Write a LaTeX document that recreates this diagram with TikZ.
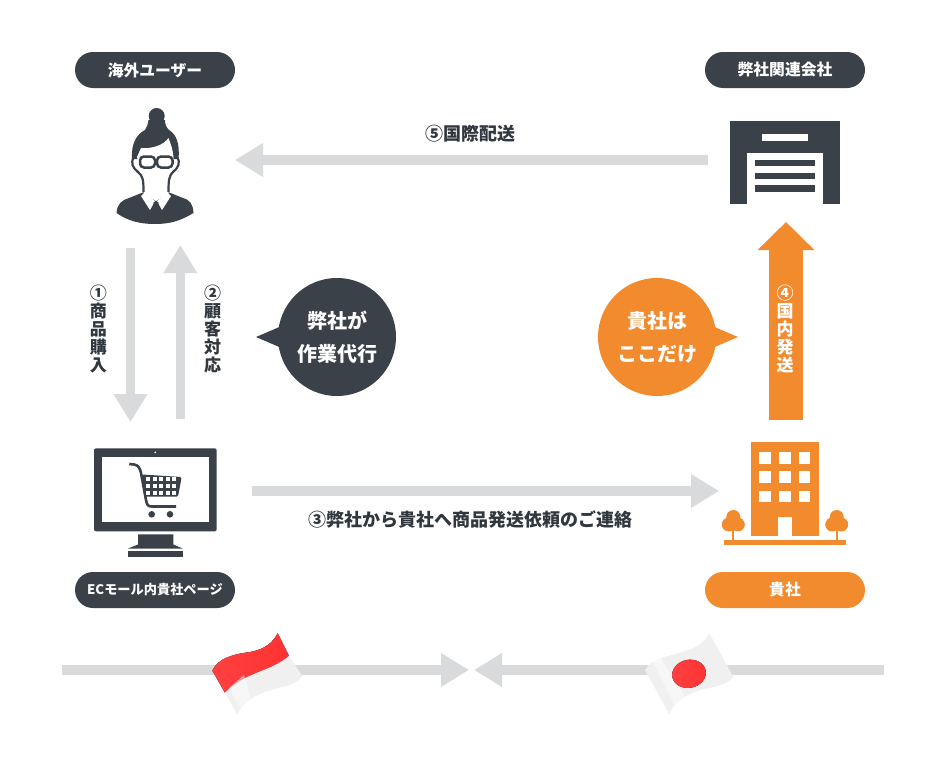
\documentclass[tikz,border=0pt]{standalone}
\usepackage{fontspec}
\setmainfont{Noto Sans CJK JP}
\usetikzlibrary{arrows.meta}
\definecolor{darkslate}{HTML}{3A4149}
\definecolor{brandorange}{HTML}{F28A2E}
\definecolor{arrowgray}{HTML}{D9DADB}
\tikzset{
	pill/.style = {fill=#1, rounded corners=18pt, minimum width=160pt, minimum height=36pt, inner sep=0pt, text=white, font=\bfseries\fontsize{15.8}{16}\selectfont},
	bubble/.style = {circle, fill=#1, minimum size=118pt, inner sep=0pt, text=white, align=center, font=\bfseries\fontsize{20}{33}\selectfont},
	grayarrow/.style = {draw=arrowgray, line width=9.5pt, -{Triangle[length=28pt, width=32pt]}},
	label/.style = {font=\bfseries\fontsize{18}{18}\selectfont, text=darkslate!85!black},
	vlabel/.style = {font=\bfseries\fontsize{17}{18.2}\selectfont, text=darkslate!85!black, align=center, inner sep=0pt}
}
\begin{document}
\begin{tikzpicture}[x=1pt, y=-1pt]
	\useasboundingbox (0,0) rectangle (940,763);

	% captions
	\node[pill=darkslate] (user) at (155,70) {海外ユーザー};
	\node[pill=darkslate] (partner) at (785,70) {弊社関連会社};
	\node[pill=darkslate, font=\bfseries\fontsize{13.2}{14}\selectfont] (shop) at (155,590) {ECモール内貴社ページ};
	\node[pill=brandorange] (client) at (785,590) {貴社};

	% arrow ends
	\coordinate (fiveA) at (708,160);
	\coordinate (fiveB) at (235,160);
	\coordinate (oneA) at (130.5,248);
	\coordinate (oneB) at (130.5,422);
	\coordinate (twoA) at (180.3,418.5);
	\coordinate (twoB) at (180.3,245);
	\coordinate (threeA) at (252,491);
	\coordinate (threeB) at (719,491);
	\coordinate (fourA) at (786,420);
	\coordinate (fourB) at (786,222);
	\coordinate (lineL) at (62,670);
	\coordinate (lineM) at (469,670);
	\coordinate (lineR) at (884,670);
	\coordinate (lineN) at (474,670);

	\draw[grayarrow] (fiveA) -- (fiveB);
	\draw[grayarrow] (oneA) -- (oneB);
	\draw[grayarrow] (twoA) -- (twoB);
	\draw[grayarrow] (threeA) -- (threeB);
	\draw[grayarrow] (lineL) -- (lineM);
	\draw[grayarrow] (lineR) -- (lineN);
	\draw[draw=brandorange, line width=34pt, -{Triangle[length=28pt, width=55pt]}] (fourA) -- (fourB);

	% arrow labels
	\node[label] (five) at (470,134) {⑤国際配送};
	\node[label] (three) at (470,519) {③弊社から貴社へ商品発送依頼のご連絡};
	\node[vlabel] (one) at (98.3,329) {①\\商\\品\\購\\入};
	\node[vlabel] (two) at (212.7,329) {②\\顧\\客\\対\\応};
	\node[vlabel, text=white] (four) at (785,329) {④\\国\\内\\発\\送};

	% bubbles
	\node[bubble=darkslate] (ours) at (337,337) {弊社が\\作業代行};
	\node[bubble=brandorange] (yours) at (657,337) {貴社は\\ここだけ};
	\coordinate (oursTip) at (256,337);
	\coordinate (yoursTip) at (738,337);
	\fill[darkslate] (oursTip) -- (284,325) -- (284,349) -- cycle;
	\fill[brandorange] (yoursTip) -- (710,325) -- (710,349) -- cycle;

	% person
	\fill[darkslate] (116.5,213) .. controls (117,204) and (122,200) .. (129,198) -- (144,192) -- (168,192) -- (183,198) .. controls (190,200) and (193,204) .. (193.5,213) .. controls (180,221) and (170,224) .. (155,224) .. controls (140,224) and (128,221) .. (116.5,213) -- cycle;
	\fill[darkslate] (156.7,116) circle (8pt);
	\fill[darkslate] (132,159) .. controls (131,143) and (137,134) .. (145,130) .. controls (147,127) and (148,124) .. (148.5,120) -- (165,120) .. controls (165,124) and (166,127) .. (169,130) .. controls (176,134) and (180,143) .. (178.5,159) -- cycle;
	\fill[white] (141,148) .. controls (150,149) and (163,146) .. (168.5,138) .. controls (171,145) and (173,150) .. (173.5,157) -- (172,168) .. controls (169,172) and (168.5,176) .. (168.5,184) -- (168.5,194) -- (156,201) -- (143.5,194) -- (143.5,184) .. controls (143.5,176) and (143,172) .. (140,168) -- (137,157) -- cycle;
	\draw[darkslate, line width=2.2pt] (134,157) .. controls (130,163) and (133,168) .. (138,172) .. controls (143,176) and (143.5,180) .. (143.5,192);
	\draw[darkslate, line width=2.2pt] (177,157) .. controls (181,163) and (178,168) .. (173,172) .. controls (169,176) and (168.5,180) .. (168.5,192);
	\draw[darkslate, line width=2.5pt, fill=white, rounded corners=4pt] (140,156.5) rectangle (155,167.5);
	\draw[darkslate, line width=2.5pt, fill=white, rounded corners=4pt] (157,156.5) rectangle (172.5,167.5);
	\fill[white] (141,196) -- (150,210) -- (155,201) -- (144,193) -- cycle;
	\fill[white] (171,196) -- (162,210) -- (157,201) -- (168,193) -- cycle;
	\fill[darkslate] (153.5,202) -- (158.5,202) -- (158,207) -- (159,216) -- (156,220) -- (153,216) -- (154,207) -- cycle;

	% warehouse
	\fill[darkslate] (730,121) rectangle (840,204);
	\fill[white] (762,133.7) rectangle (808,141);
	\fill[white] (747.3,153) rectangle (822.7,204);
	\foreach \y in {160, 172.6, 185.3} {
		\fill[darkslate] (754.7,\y) rectangle (815.3,\y+6.4);
	}

	% monitor
	\fill[darkslate, rounded corners=2pt] (94,448.3) rectangle (216.7,531.3);
	\fill[white] (101.7,457.3) rectangle (209.3,521.7);
	\fill[white] (155.3,452.3) circle (1pt);
	\fill[darkslate] (138,534.3) -- (173.3,534.3) -- (173.3,544.5) -- (182.7,548.5) -- (128,548.5) -- (138,544.5) -- cycle;
	\fill[darkslate] (128,550.7) rectangle (182.7,557.3);

	% cart
	\draw[darkslate, line width=2.6pt] (129.3,464) -- (134,464.5) .. controls (138,465) and (140,468) .. (141,473) -- (146,500) .. controls (147,505) and (148,506.5) .. (152,506.5) -- (176,506.5);
	\fill[darkslate, rounded corners=1.5pt] (142,474.5) -- (181.7,477) -- (178,496.7) -- (145,496.7) -- cycle;
	\foreach \x in {0,...,4} {
		\foreach \y in {0,1,2} {
			\fill[white] (146+\x*6.5,477+\y*6.8) rectangle ++(4.2,4.2);
		}
	}
	\fill[darkslate] (151.7,514.3) circle (3.3pt);
	\fill[darkslate] (170,514.3) circle (3.3pt);

	% building
	\fill[brandorange] (750.7,442) rectangle (819.3,536);
	\foreach \x in {759.3, 779, 798.7} {
		\foreach \y in {452, 471.3, 490.7} {
			\fill[white] (\x,\y) rectangle ++(11.7,11.5);
		}
	}
	\fill[white] (778.3,517.3) rectangle (791.7,536);
	\fill[brandorange] (724,540) rectangle (846,545);
	\foreach \x in {733.3, 836.7} {
		\fill[brandorange] (\x-1,525) rectangle (\x+1,540);
		\fill[brandorange] (\x,517) circle (7pt);
		\fill[brandorange] (\x-4.5,524.5) circle (7pt);
		\fill[brandorange] (\x+4.5,524.5) circle (7pt);
	}

	% flag left
	\fill[left color=red!75, middle color=red, right color=red!80] (212.3,670.7) .. controls (218,658) and (234,654) .. (250,652) .. controls (266,649) and (273,642) .. (277.7,633.3) -- (289,656) .. controls (270,672) and (245,672) .. (225,692.7) -- cycle;
	\fill[black!6] (225,692.7) .. controls (245,672) and (270,672) .. (289,656) -- (302.3,676) .. controls (295,687) and (280,686) .. (265,692) .. controls (250,698) and (243,703) .. (237.3,714.3) -- cycle;
	\fill[white, opacity=.5] (229,688) -- (244,675) -- (250,698) -- (240,708) -- cycle;

	% flag right
	\fill[black!6] (645,670) .. controls (655,655) and (672,657) .. (687,650) .. controls (700,647) and (705,640) .. (709.3,633.3) -- (733.3,676.7) .. controls (725,688) and (705,687) .. (695,692) .. controls (682,697) and (675,702) .. (669.3,714) -- cycle;
	\fill[white, opacity=.5] (652,660) -- (660,657) -- (685,697) -- (675,705) -- cycle;
	\fill[left color=red!75, middle color=red, right color=red!80, rotate around={12:(689,673.8)}] (689,673.8) ellipse (17pt and 14pt);
\end{tikzpicture}
\end{document}
